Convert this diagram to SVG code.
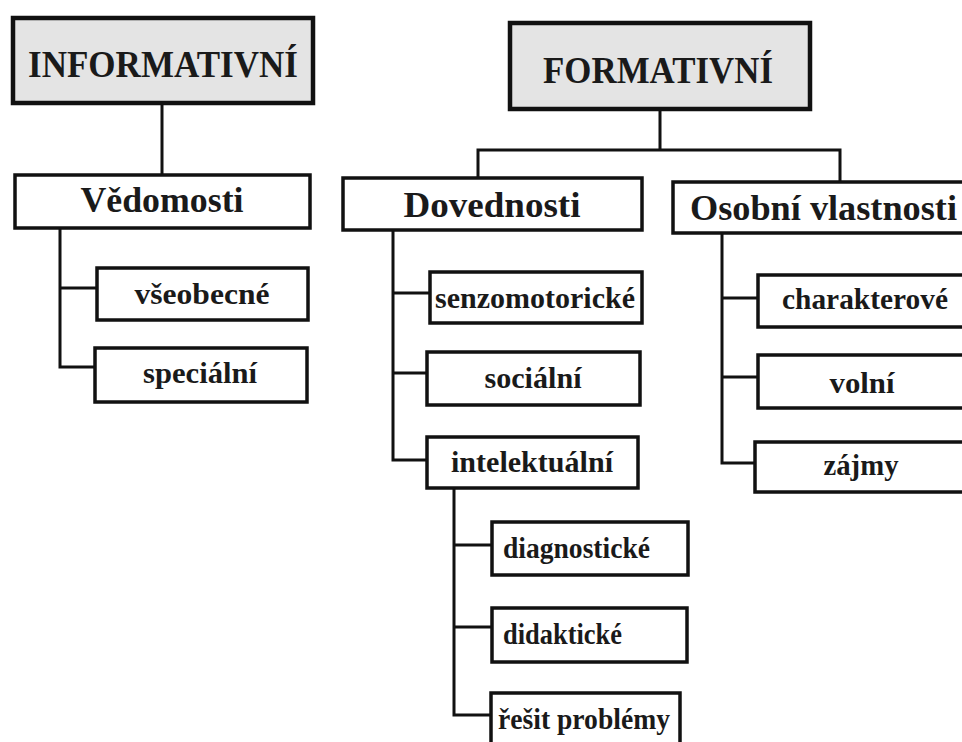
<svg xmlns="http://www.w3.org/2000/svg" width="962" height="742" viewBox="0 0 962 742">
<style>
.hdr{fill:#e4e4e4;stroke:#111;stroke-width:4.5}
.box{fill:#fff;stroke:#111;stroke-width:3.5}
.t{font-family:"Liberation Serif","Times New Roman",serif;font-weight:bold;fill:#1a1a1a}
.th{font-size:38px}
.tm{font-size:35px}
.ts{font-size:30px}
.c{text-anchor:middle}
.con{fill:none;stroke:#111;stroke-width:3}
</style>
<rect width="962" height="742" fill="#fff"/>
<g id="connectors" class="con">
<path d="M162 103V175"/>
<path d="M60 228V367H97M60 288H97"/>
<path d="M660 109V150M478 178V150H840V182"/>
<path d="M393 230V460H427M393 293H430M393 373H427"/>
<path d="M722 233V463H755M722 298H758M722 377H758"/>
<path d="M454 488V715H492M454 545H492M454 627H492"/>
</g>
<g id="informativni"><rect class="hdr" x="13" y="18" width="300" height="85"/><text class="t th c" x="163" y="77" textLength="270" lengthAdjust="spacingAndGlyphs">INFORMATIVNÍ</text></g>
<g id="formativni"><rect class="hdr" x="510" y="23" width="300" height="86"/><text class="t th c" x="658" y="83" textLength="230" lengthAdjust="spacingAndGlyphs">FORMATIVNÍ</text></g>
<g id="vedomosti"><rect class="box" x="15" y="175" width="295" height="53"/><text class="t tm c" x="162" y="212" textLength="163" lengthAdjust="spacingAndGlyphs">Vědomosti</text></g>
<g id="dovednosti"><rect class="box" x="343" y="178" width="299" height="52"/><text class="t tm c" x="492" y="217" textLength="177" lengthAdjust="spacingAndGlyphs">Dovednosti</text></g>
<g id="osobni"><rect class="box" x="673" y="182" width="300" height="51"/><text class="t tm" x="690" y="220" textLength="267" lengthAdjust="spacingAndGlyphs">Osobní vlastnosti</text></g>
<g id="vseobecne"><rect class="box" x="97" y="268" width="211" height="52"/><text class="t ts c" x="202" y="304" textLength="135" lengthAdjust="spacingAndGlyphs">všeobecné</text></g>
<g id="specialni"><rect class="box" x="95" y="348" width="212" height="54"/><text class="t ts c" x="200" y="383" textLength="114" lengthAdjust="spacingAndGlyphs">speciální</text></g>
<g id="senzomotoricke"><rect class="box" x="430" y="272" width="212" height="51"/><text class="t ts c" x="535" y="308" textLength="200" lengthAdjust="spacingAndGlyphs">senzomotorické</text></g>
<g id="socialni"><rect class="box" x="427" y="352" width="213" height="53"/><text class="t ts c" x="533" y="388" textLength="97" lengthAdjust="spacingAndGlyphs">sociální</text></g>
<g id="intelektualni"><rect class="box" x="427" y="437" width="211" height="51"/><text class="t ts c" x="532" y="472" textLength="162" lengthAdjust="spacingAndGlyphs">intelektuální</text></g>
<g id="charakterove"><rect class="box" x="758" y="275" width="215" height="52"/><text class="t ts c" x="865" y="309" textLength="166" lengthAdjust="spacingAndGlyphs">charakterové</text></g>
<g id="volni"><rect class="box" x="758" y="355" width="215" height="53"/><text class="t ts c" x="862" y="393" textLength="65" lengthAdjust="spacingAndGlyphs">volní</text></g>
<g id="zajmy"><rect class="box" x="755" y="442" width="218" height="50"/><text class="t ts c" x="861" y="475" textLength="75" lengthAdjust="spacingAndGlyphs">zájmy</text></g>
<g id="diagnosticke"><rect class="box" x="492" y="522" width="196" height="53"/><text class="t ts" x="503" y="558" textLength="147" lengthAdjust="spacingAndGlyphs">diagnostické</text></g>
<g id="didakticke"><rect class="box" x="492" y="608" width="195" height="54"/><text class="t ts" x="503" y="644" textLength="119" lengthAdjust="spacingAndGlyphs">didaktické</text></g>
<g id="resit"><rect class="box" x="491" y="693" width="189" height="60"/><text class="t ts" x="498" y="729" textLength="172" lengthAdjust="spacingAndGlyphs">řešit problémy</text></g>
</svg>
